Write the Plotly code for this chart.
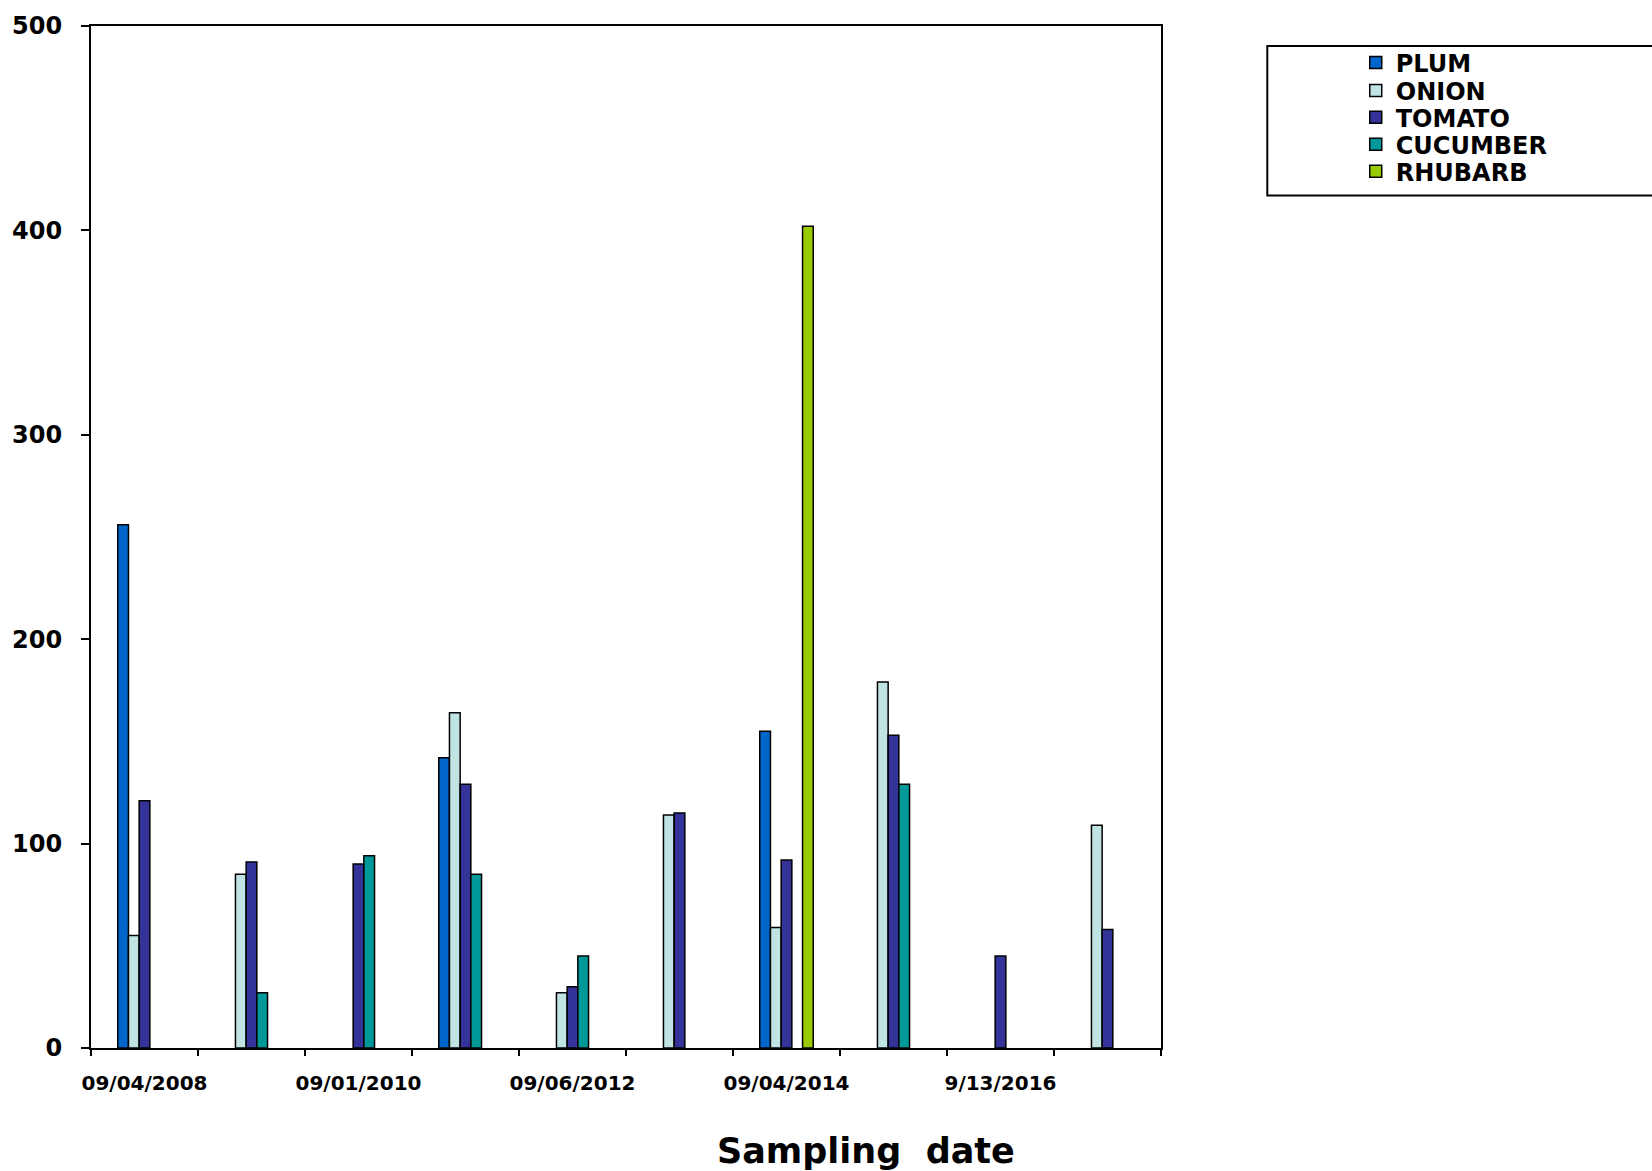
import plotly.graph_objects as go

# ---- data -------------------------------------------------------------
sample_index = [0, 1, 2, 3, 4, 5, 6, 7, 8, 9]          # 10 sampling campaigns
labelled_index = [0, 2, 4, 6, 8]
labelled_dates = ["09/04/2008", "09/01/2010", "09/06/2012", "09/04/2014", "9/13/2016"]

plum     = [256, None, None, 142, None, None, 155, None, None, None]
onion    = [55, 85, None, 164, 27, 114, 59, 179, None, 109]
tomato   = [121, 91, 90, 129, 30, 115, 92, 153, 45, 58]
cucumber = [None, 27, 94, 85, 45, None, None, 129, None, None]
rhubarb  = [None, None, None, None, None, None, 402, None, None, None]

series_names = ["PLUM", "ONION", "TOMATO", "CUCUMBER", "RHUBARB"]
series_values = [plum, onion, tomato, cucumber, rhubarb]
series_colors = ["#0066CC", "#C0E4E4", "#333399", "#009999", "#99CC00"]

y_ticks = [0, 100, 200, 300, 400, 500]

# ---- layout geometry (pixels) -----------------------------------------
W, H = 1652, 1171
L, R, T, B = 84, 1161, 23, 1048
pw, ph = R - L, B - T


def px_x(px):
    return (px - L) / pw


def px_y(py):
    return (B - py) / ph


FONT = "DejaVu Sans"

fig = go.Figure()
legend_rows = [60, 88, 115, 142, 169]
for i, (name, vals, col) in enumerate(zip(series_names, series_values, series_colors)):
    lg = "legend" if i == 0 else f"legend{i+1}"
    fig.add_trace(go.Bar(
        x=sample_index, y=vals, name=name,
        marker=dict(color=col, line=dict(color="black", width=1.5)),
        legend=lg,
    ))

legends = {}
for i, yrow in enumerate(legend_rows):
    key = "legend" if i == 0 else f"legend{i+1}"
    legends[key] = dict(
        x=px_x(1357), xanchor="left", y=px_y(yrow), yanchor="middle",
        bgcolor="rgba(0,0,0,0)", borderwidth=0,
        font=dict(family=FONT, size=24, color="black", weight="bold"),
        itemclick=False, itemdoubleclick=False,
    )

fig.update_layout(
    width=W, height=H,
    margin=dict(l=L, r=W - R, t=T, b=H - B, pad=0),
    paper_bgcolor="white", plot_bgcolor="white",
    barmode="group", bargap=0.5, bargroupgap=0,
    showlegend=True,
    **legends,
    xaxis=dict(
        range=[-0.5, 9.5], tickmode="array",
        tickvals=labelled_index, ticktext=labelled_dates,
        ticks="", ticklabelstandoff=16,
        tickfont=dict(family=FONT, size=20, color="black", weight="bold"),
        showline=True, linecolor="black", linewidth=2, mirror=True,
        showgrid=False, zeroline=False,
        minor=dict(tickmode="array", tickvals=[i - 0.5 for i in range(11)],
                   ticks="outside", ticklen=6, tickwidth=2, tickcolor="black",
                   showgrid=False),
    ),
    yaxis=dict(
        range=[0, 500], tickmode="array", tickvals=y_ticks,
        ticks="outside", ticklen=8, tickwidth=2, tickcolor="black",
        ticklabelstandoff=14,
        tickfont=dict(family=FONT, size=24, color="black", weight="bold"),
        showline=True, linecolor="black", linewidth=2, mirror=True,
        showgrid=False, zeroline=False,
    ),
    shapes=[dict(
        type="rect", xref="paper", yref="paper",
        x0=px_x(1268), x1=px_x(1680), y0=px_y(193), y1=px_y(43),
        line=dict(color="black", width=2), fillcolor="white", layer="below",
    )],
    annotations=[dict(
        text="Sampling  date", xref="paper", yref="paper",
        x=px_x(864), y=px_y(1151), xanchor="center", yanchor="middle",
        showarrow=False,
        font=dict(family=FONT, size=35, color="black", weight="bold"),
    )],
)

fig.write_html("out.html", config={"displayModeBar": False},
               post_script="document.body.style.margin='0';document.body.style.overflow='hidden';")
